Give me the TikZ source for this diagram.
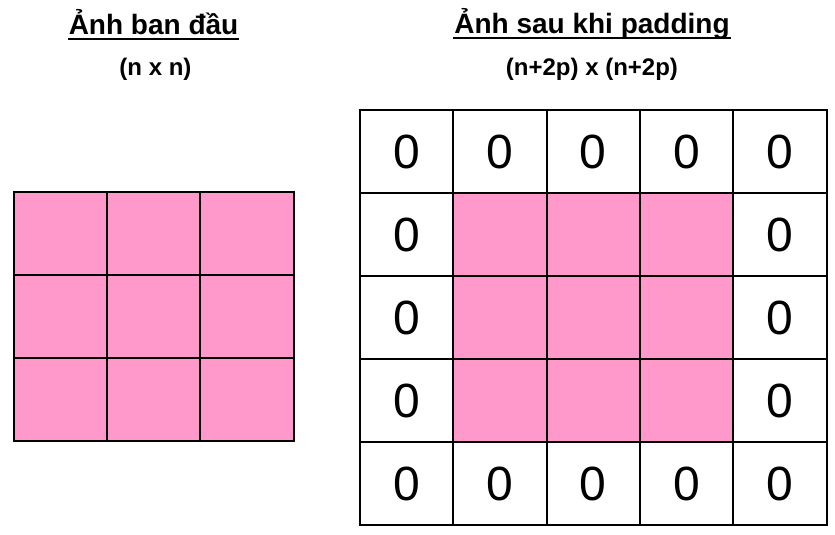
\documentclass[tikz,border=0pt]{standalone}
\usepackage{fontspec}
\setmainfont{Liberation Sans}
\definecolor{pinkcell}{HTML}{FF99CC}
\tikzset{
	title/.style={font=\fontsize{28}{32}\selectfont\bfseries, inner sep=0pt, anchor=base},
	size/.style={font=\fontsize{24}{28}\selectfont\bfseries, inner sep=0pt, anchor=base},
	zero/.style={font=\fontsize{48}{52}\selectfont, inner sep=0pt},
}
\begin{document}
\begin{tikzpicture}[x=93.33pt, y=83pt, line width=1.8pt]
	\useasboundingbox (0, 0) rectangle (8.947, 6.434);
	\begin{scope}[shift={(0.147, 1.12)}]
	\fill[pinkcell] (0, 0) rectangle (3, 3);
	\draw[step=1, line cap=rect] (0, 0) grid (3, 3);
	\end{scope}
	\begin{scope}[shift={(3.857, 0.108)}]
	\fill[pinkcell] (1, 1) rectangle (4, 4);
	\draw[step=1, line cap=rect] (0, 0) grid (5, 5);
	\foreach \i in {0,...,4} {
		\node[zero] (t\i) at (\i+0.5, 4.5) {0};
		\node[zero] (b\i) at (\i+0.5, 0.5) {0};
	}
	\foreach \j in {1,2,3} {
		\node[zero] (l\j) at (0.5, \j+0.5) {0};
		\node[zero] (r\j) at (4.5, \j+0.5) {0};
	}
	\end{scope}
	\node[title] (10) at (1.645, 6.024) {Ảnh ban đầu};
	\node[size] (11) at (1.666, 5.530) {(n x n)};
	\node[title] (12) at (6.343, 6.036) {Ảnh sau khi padding};
	\node[size] (13) at (6.343, 5.530) {(n+2p) x (n+2p)};
	\draw[line width=2pt] ([yshift=-4.5pt]10.base west) -- ([yshift=-4.5pt]10.base east);
	\draw[line width=2pt] ([yshift=-4.5pt]12.base west) -- ([yshift=-4.5pt]12.base east);
\end{tikzpicture}
\end{document}
